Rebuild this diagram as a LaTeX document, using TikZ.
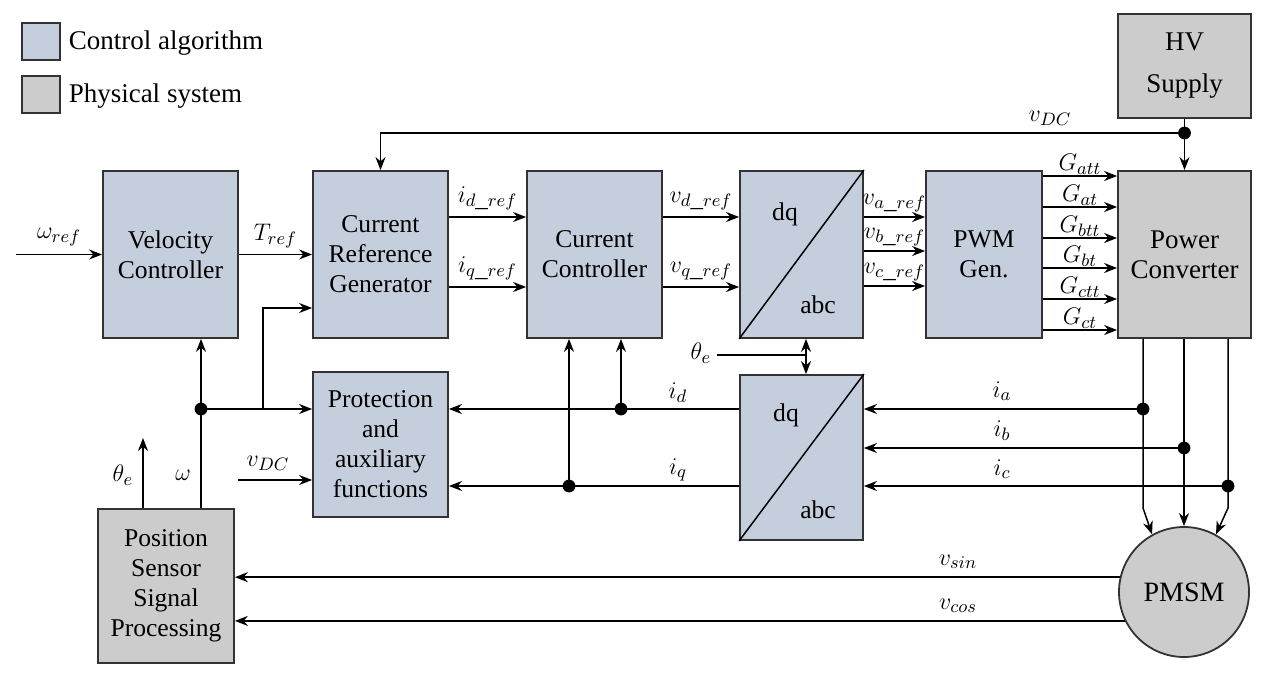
\documentclass[tikz,border=0pt]{standalone}
\usepackage{fontspec}
\setmainfont{Liberation Serif}
\usetikzlibrary{arrows.meta,calc}
\definecolor{ctrlblue}{HTML}{C5CEDD}
\definecolor{physgray}{HTML}{CCCCCC}
\tikzset{
  blk/.style={draw=black!80, line width=0.9pt, align=center, inner sep=2pt, font=\fontsize{12.8}{15}\selectfont},
  ctrl/.style={blk, fill=ctrlblue},
  phys/.style={blk, fill=physgray},
  arr/.style={-{Stealth[length=6.5pt,width=5pt]}},
  darr/.style={{Stealth[length=6.5pt,width=5pt]}-{Stealth[length=6.5pt,width=5pt]}},
  lbl/.style={font=\fontsize{12.5}{15}\selectfont, inner sep=1pt},
  leg/.style={font=\fontsize{13.5}{16}\selectfont, inner sep=1pt, anchor=west},
}

\begin{document}
\begin{tikzpicture}[x=0.5pt, y=-0.5pt, line width=0.75pt]
\useasboundingbox (0,0) rectangle (1262,680);

% legend
\node[ctrl, minimum width=19pt, minimum height=18.5pt] (lgc) at (41,41.5) {};
\node[leg] (lgctxt) at (66,43) {Control algorithm};
\node[phys, minimum width=19pt, minimum height=18.5pt] (lgp) at (41,94.5) {};
\node[leg] (lgptxt) at (66,96) {Physical system};

% blocks
\node[ctrl, minimum width=67.5pt, minimum height=83.5pt] (vel) at (170.5,254.5) {Velocity\\Controller};
\node[ctrl, minimum width=67.5pt, minimum height=83.5pt] (crg) at (380.5,254.5) {Current\\Reference\\Generator};
\node[ctrl, minimum width=67.5pt, minimum height=83.5pt] (cc) at (594.5,254.5) {Current\\Controller};
\node[ctrl, minimum width=61.5pt, minimum height=83.5pt] (dqt) at (801.5,254.5) {};
\node[ctrl, minimum width=58pt, minimum height=83.5pt] (pwm) at (984,254.5) {PWM\\Gen.};
\node[phys, minimum width=66.5pt, minimum height=83.5pt, font=\fontsize{13.5}{15}\selectfont] (pc) at (1184.5,254.5) {Power\\Converter};
\node[phys, minimum width=66.5pt, minimum height=52pt, font=\fontsize{13.5}{21}\selectfont] (hv) at (1184.5,66) {HV\\Supply};
\node[ctrl, minimum width=67.5pt, minimum height=72.5pt] (prot) at (380.5,444.5) {Protection\\and\\auxiliary\\functions};
\node[ctrl, minimum width=61.5pt, minimum height=82.5pt] (dqb) at (801.5,457.5) {};
\node[phys, minimum width=68pt, minimum height=77pt] (pos) at (166,586) {Position\\Sensor\\Signal\\Processing};
\node[phys, circle, minimum size=65pt, inner sep=0pt, font=\fontsize{14}{16}\selectfont] (pmsm) at (1184,592) {PMSM};

% dq/abc transforms
\draw (dqt.south west) -- (dqt.north east);
\node[blk, draw=none] (dqt1) at (785,214) {dq};
\node[blk, draw=none] (dqt2) at (818,305) {abc};
\draw (dqb.south west) -- (dqb.north east);
\node[blk, draw=none] (dqb1) at (786,415) {dq};
\node[blk, draw=none] (dqb2) at (818,510) {abc};

% forward path
\coordinate (wref) at (16,254.5);
\draw[arr] (wref) -- (vel.west) node[lbl, midway, above=3pt] {$\omega_{ref}$};
\draw[arr] (vel) -- (crg) node[lbl, midway, above=2pt] {$T_{ref}$};
\draw[arr] (crg.east |- 0,217) -- (cc.west |- 0,217) node[lbl, midway, above=2pt] {$i_{d\_ref}$};
\draw[arr] (crg.east |- 0,287) -- (cc.west |- 0,287) node[lbl, midway, above=2pt] {$i_{q\_ref}$};
\draw[arr] (cc.east |- 0,217) -- (dqt.west |- 0,217) node[lbl, midway, above=2pt] {$v_{d\_ref}$};
\draw[arr] (cc.east |- 0,287) -- (dqt.west |- 0,287) node[lbl, midway, above=2pt] {$v_{q\_ref}$};
\draw[arr] (dqt.east |- 0,217) -- (pwm.west |- 0,217) node[lbl, midway, above=1pt] {$v_{a\_ref}$};
\draw[arr] (dqt.east |- 0,251) -- (pwm.west |- 0,251) node[lbl, midway, above=1pt] {$v_{b\_ref}$};
\draw[arr] (dqt.east |- 0,286) -- (pwm.west |- 0,286) node[lbl, midway, above=1pt] {$v_{c\_ref}$};
\foreach \y/\g in {176/att,207/at,238/btt,268/bt,299/ctt,330/ct}
  \draw[arr] (pwm.east |- 0,\y) -- (pc.west |- 0,\y) node[lbl, midway, above=-0.5pt] {$G_{\g}$};

% dc link
\coordinate (jdc) at (1184.5,133);
\draw[arr] (hv.south) -- (pc.north);
\draw[arr] (jdc) -| (crg.north);
\node[lbl] (vdctop) at (1050,118) {$v_{DC}$};

% speed and position feedback
\coordinate (jw) at (201,409);
\coordinate (jb) at (263,409);
\coordinate (th) at (143,438);
\draw[arr] (pos.north -| jw) -- (vel.south -| jw);
\draw[arr] (jw) -- (prot.west |- jw);
\draw[arr] (jb) |- (crg.west |- 0,308);
\draw[arr] (pos.north -| th) -- (th);
\node[lbl] (wlbl) at (183,475) {$\omega$};
\node[lbl] (thlbl) at (123,475) {$\theta_e$};
\coordinate (vdcin) at (238,480);
\draw[arr] (vdcin) -- (prot.west |- vdcin);
\node[lbl] (vdclow) at (268,463) {$v_{DC}$};

% measured currents
\coordinate (jd) at (621,409);
\coordinate (jq) at (569,486);
\draw[arr] (dqb.west |- jd) -- (prot.east |- jd);
\draw[arr] (dqb.west |- jq) -- (prot.east |- jq);
\node[lbl] (idlbl) at (678,393) {$i_d$};
\node[lbl] (iqlbl) at (678,470) {$i_q$};
\draw[arr] (jd) -- (cc.south -| jd);
\draw[arr] (jq) -- (cc.south -| jq);

% angle to transforms
\coordinate (thb) at (806,355);
\draw[darr] (dqt.south -| thb) -- (dqb.north -| thb);
\draw (717,355) -- (thb);
\node[lbl, anchor=east] (thdq) at (714,353) {$\theta_e$};

% phase currents
\coordinate (ja) at (1143,409);
\coordinate (jbb) at (1184,448);
\coordinate (jc) at (1228,486);
\draw[arr] (ja) -- (dqb.east |- ja);
\draw[arr] (jbb) -- (dqb.east |- jbb);
\draw[arr] (jc) -- (dqb.east |- jc);
\node[lbl] (ialbl) at (1002,391) {$i_a$};
\node[lbl] (iblbl) at (1002,431) {$i_b$};
\node[lbl] (iclbl) at (1002,469) {$i_c$};
\draw[arr] (pc.south -| ja) -- (1143,508) -- (pmsm.119);
\draw[arr] (pc.south -| jbb) -- (pmsm.north);
\draw[arr] (pc.south -| jc) -- (1228,508) -- (pmsm.61);

% resolver signals
\draw[arr] (pmsm.167) -- (pos.east |- pmsm.167);
\draw[arr] (pmsm.206) -- (pos.east |- pmsm.206);
\node[lbl] (vsin) at (958,562) {$v_{sin}$};
\node[lbl] (vcos) at (958,606) {$v_{cos}$};

\foreach \c in {jdc,jw,jd,jq,ja,jbb,jc}
  \fill (\c) circle [radius=3.2pt];
\end{tikzpicture}
\end{document}
